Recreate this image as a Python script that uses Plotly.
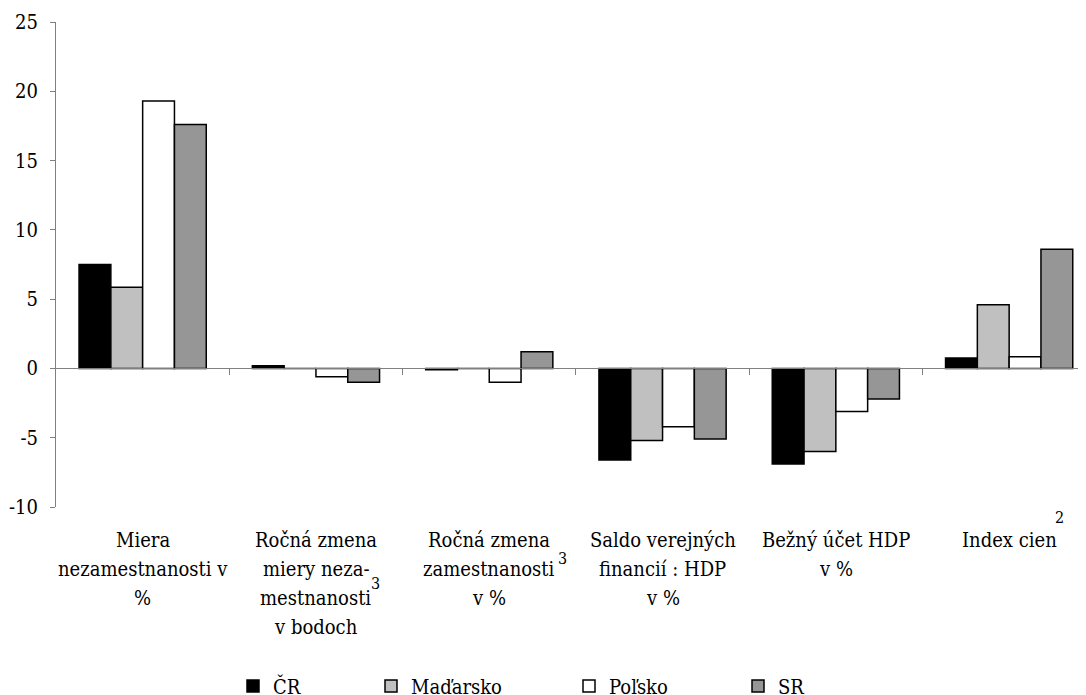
import plotly.graph_objects as go

# ---- data ----
categories = [
    "Miera\nnezamestnanosti v\n%",
    "Ročná zmena\nmiery neza-\nmestnanosti\nv bodoch",
    "Ročná zmena\nzamestnanosti\nv %",
    "Saldo verejných\nfinancií : HDP\nv %",
    "Bežný účet HDP\nv %",
    "Index cien",
]
series_names = ["ČR", "Maďarsko", "Poľsko", "SR"]
cr = [7.5, 0.2, -0.1, -6.6, -6.9, 0.75]
madarsko = [5.85, 0.0, 0.0, -5.2, -6.0, 4.6]
polsko = [19.3, -0.6, -1.0, -4.2, -3.1, 0.85]
sr = [17.6, -1.0, 1.2, -5.1, -2.2, 8.6]
footnotes = ["3", "3", "2"]
y_ticks = [-10, -5, 0, 5, 10, 15, 20, 25]
y_tick_labels = ["-10", "-5", "0", "5", "10", "15", "20", "25"]

colors = ["#000000", "#C0C0C0", "#FFFFFF", "#969696"]
values = [cr, madarsko, polsko, sr]

FONT = "DejaVu Serif Condensed, DejaVu Serif"
FS = 20
OFF = 8  # page body margin
SCR_W, SCR_H = 1086, 695
W_FIG, H_FIG = SCR_W - OFF, SCR_H - OFF
SL, ST, SR_, SB = 56, 22, SCR_W, 507
L, T = SL - OFF, ST - OFF
R = 0
B = H_FIG - (SB - OFF)
PW = W_FIG - L - R
PH = H_FIG - T - B
CAT_W = 173.3
x_max = -0.5 + PW / CAT_W


def xp(px):
    return (px - SL) / PW


def yp(py):
    return (SB - py) / PH


fig = go.Figure()
xs = list(range(len(categories)))
legend_ids = ["legend", "legend2", "legend3", "legend4"]
for name, vals, col, lg in zip(series_names, values, colors, legend_ids):
    fig.add_trace(go.Bar(
        x=xs, y=vals, name=name, legend=lg,
        marker=dict(color=col, line=dict(color="#000000", width=1.5)),
    ))

annotations = []
LINE0, LINE_STEP = 540, 29
for i, txt in enumerate(categories):
    for k, line in enumerate(txt.split("\n")):
        annotations.append(dict(
            x=i, xref="x", y=yp(LINE0 + LINE_STEP * k), yref="paper",
            yanchor="middle", xanchor="center",
            text=line, showarrow=False, align="center",
            font=dict(family=FONT, size=FS, color="#000000"),
        ))
fn_pos = [(375, 584), (562, 558), (1059, 518)]
for t, (fx, fy) in zip(footnotes, fn_pos):
    annotations.append(dict(
        x=xp(fx), xref="paper", y=yp(fy), yref="paper",
        xanchor="center", yanchor="middle", text=t, showarrow=False,
        font=dict(family=FONT, size=16, color="#000000"),
    ))

legend_px = [247, 385, 583, 752]
layout_legends = {}
for lg, px in zip(legend_ids, legend_px):
    layout_legends[lg] = dict(
        x=xp(px - 14), xanchor="left", y=yp(686), yanchor="middle",
        orientation="h", font=dict(family=FONT, size=FS, color="#000000"),
        bgcolor="rgba(0,0,0,0)", borderwidth=0,
    )

fig.update_layout(
    width=W_FIG, height=H_FIG,
    margin=dict(l=L, r=R, t=T, b=B, autoexpand=False),
    paper_bgcolor="#FFFFFF", plot_bgcolor="#FFFFFF",
    barmode="group", bargap=0.266, bargroupgap=0,
    showlegend=True,
    font=dict(family=FONT, size=FS, color="#000000"),
    xaxis=dict(
        range=[-0.5, x_max], anchor="free", position=10 / 35,
        showline=True, linecolor="#808080", linewidth=1,
        ticks="outside", ticklen=6, tickcolor="#808080",
        tickvals=[0.5, 1.5, 2.5, 3.5, 4.5], showticklabels=False,
        showgrid=False, zeroline=False,
    ),
    yaxis=dict(
        range=[-10, 25], tickvals=y_ticks, ticktext=y_tick_labels, showline=True,
        linecolor="#808080", linewidth=1, ticks="outside", ticklen=5,
        tickcolor="#808080", showgrid=False, zeroline=False,
        ticklabelstandoff=8,
        tickfont=dict(family=FONT, size=FS, color="#000000"),
    ),
    annotations=annotations,
    **layout_legends,
)

fig.write_html("out.html")
